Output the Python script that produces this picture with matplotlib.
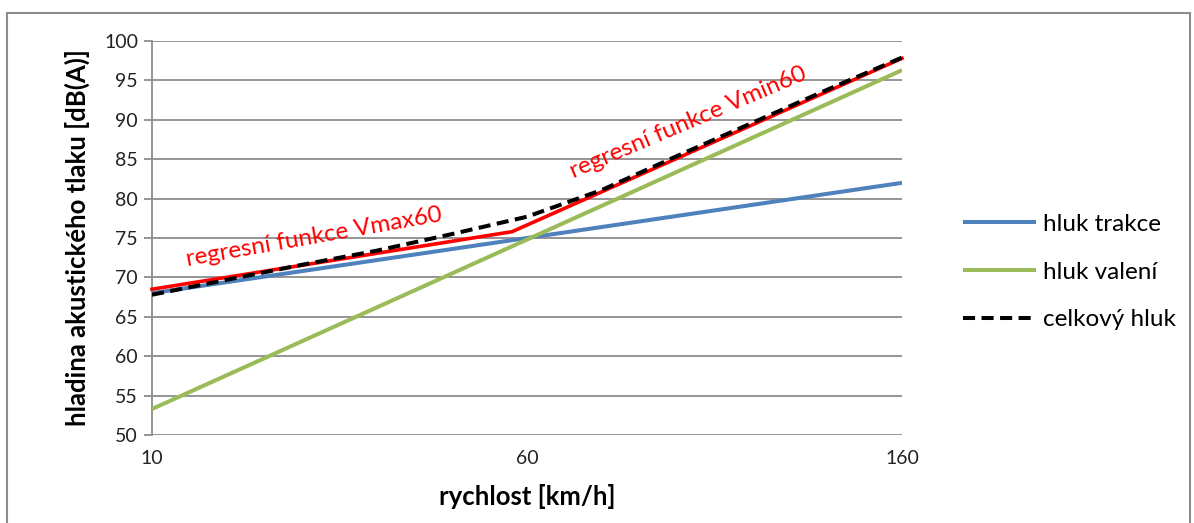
import numpy as np
import matplotlib
matplotlib.use("Agg")
import matplotlib.pyplot as plt
from matplotlib.patches import Rectangle

plt.rcParams['font.family'] = ['Lato', 'DejaVu Sans']

# data
speeds = [10, 20, 30, 40, 50, 60, 80, 100, 120, 140, 160]
tick_speeds = [10, 60, 160]
hluk_trakce = [68.0, 69.4, 70.8, 72.2, 73.6, 75.0, 76.4, 77.8, 79.2, 80.6, 82.0]
hluk_valeni = [53.3, 57.6, 61.9, 66.2, 70.5, 74.8, 79.1, 83.4, 87.7, 92.0, 96.3]
celkovy_hluk = [67.8, 69.7, 71.6, 73.4, 75.5, 77.7, 81.1, 85.4, 89.6, 93.8, 97.9]
regrese_speeds = [10, 58, 160]
regrese_db = [68.5, 75.8, 97.8]
series_labels = ['hluk trakce', 'hluk valení', 'celkový hluk']

W, H = 1194, 523
fig = plt.figure(figsize=(W / 100, H / 100), dpi=100)
ax = fig.add_axes([152 / W, 1 - 435 / H, (902 - 152) / W, (435 - 41) / H])

pos = np.arange(len(speeds))
def to_pos(v):
    return np.interp(v, speeds, pos)

grid_c = '#8c8c8c'
ax.plot(pos, hluk_trakce, color='#4F81BD', lw=2.9, label=series_labels[0], zorder=3, solid_capstyle='butt')
ax.plot(pos, hluk_valeni, color='#9BBB59', lw=2.9, label=series_labels[1], zorder=3, solid_capstyle='butt')
ax.plot(to_pos(regrese_speeds), regrese_db, color='#FF0000', lw=2.6, zorder=4, clip_on=False)
ax.plot(pos, celkovy_hluk, color='black', lw=2.9, dashes=(3.0, 1.6), label=series_labels[2], zorder=5)

ax.set_xlim(0, len(speeds) - 1)
ax.set_ylim(50, 100)
ax.set_yticks(np.arange(50, 101, 5))
ax.set_xticks(to_pos(tick_speeds))
ax.set_xticklabels([str(s) for s in tick_speeds])
ax.yaxis.grid(True, color=grid_c, lw=1.3)
ax.set_axisbelow(True)
for s in ['top', 'right', 'bottom']:
    ax.spines[s].set_visible(False)
ax.spines['left'].set_color(grid_c)
ax.spines['left'].set_linewidth(1.3)
ax.tick_params(axis='y', length=6, color=grid_c, width=1.3, labelsize=14, pad=4, labelcolor='#222222')
ax.tick_params(axis='x', length=0, labelsize=14, pad=11, labelcolor='#222222')

ax.set_ylabel('hladina akustického tlaku [dB(A)]', fontsize=18.5, fontweight='bold', labelpad=10)
ax.set_xlabel('rychlost [km/h]', fontsize=18.5, fontweight='bold', labelpad=12)

ax.text(to_pos(31.6), 75.1, 'regresní funkce Vmax60', color='#FF0000', fontsize=17.5,
        rotation=10, rotation_mode='anchor', ha='center', va='center')
ax.text(to_pos(103), 89.6, 'regresní funkce Vmin60', color='#FF0000', fontsize=17.5,
        rotation=23, rotation_mode='anchor', ha='center', va='center')

leg = ax.legend(loc='center left', bbox_to_anchor=(963 / W, 1 - 272 / H), bbox_transform=fig.transFigure,
                frameon=False, fontsize=17.5, handlelength=3.0, handletextpad=0.3, labelspacing=1.1,
                borderpad=0, borderaxespad=0)

fig.add_artist(Rectangle((7 / W, -0.02), (1190 - 7) / W, (523 - 13) / H + 0.02, transform=fig.transFigure,
                         fill=False, edgecolor=grid_c, lw=1.5))

fig.savefig('out.png', dpi=100)
